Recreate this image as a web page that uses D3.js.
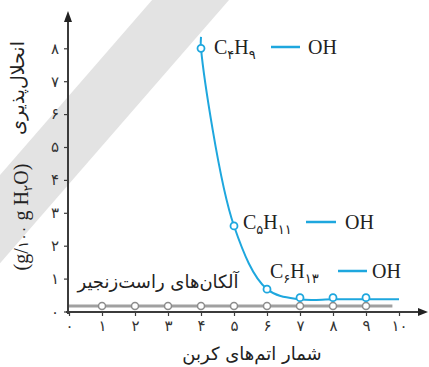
<!DOCTYPE html>
<html>
<head>
<meta charset="utf-8">
<script src="https://cdn.jsdelivr.net/npm/d3@7"></script>
<style>
  body { margin: 0; background: #fff; }
  svg { display: block; }
  .fa { font-family: "DejaVu Sans", sans-serif; }
  .serif { font-family: "Liberation Serif", "Times New Roman", serif; }
</style>
</head>
<body>
<svg id="chart"></svg>
<script>
const width = 429;
const height = 367;

// data
const xTicks = [0, 1, 2, 3, 4, 5, 6, 7, 8, 9, 10];
const xTickLabels = ['۰', '۱', '۲', '۳', '۴', '۵', '۶', '۷', '۸', '۹', '۱۰'];
const yTicks = [0, 1, 2, 3, 4, 5, 6, 7, 8];
const yTickLabels = ['۰', '۱', '۲', '۳', '۴', '۵', '۶', '۷', '۸'];

const alkaneCarbons = [1, 2, 3, 4, 5, 6, 7, 8, 9];
const alkaneValues = [0.17, 0.17, 0.17, 0.17, 0.17, 0.17, 0.17, 0.17, 0.17];
const alkaneLine = [[0, 0.17], [9.8, 0.17]];

const alcoholCarbons = [4, 5, 6, 7, 8, 9];
const alcoholValues = [8, 2.6, 0.68, 0.42, 0.42, 0.42];
const alcoholCurve = [[4, 8.35], [4, 8], [5, 2.6], [6, 0.68], [7, 0.37], [8, 0.37], [9, 0.37], [10, 0.37]];

// grey diagonal band behind the plot (data units)
const bandCorners = [[-2.09, 4.15], [2.52, 9.47], [4.85, 9.47], [-2.09, 1.47]];

// formula labels: carbon / hydrogen subscripts
const formulas = [
  { c: '۴', h: '۹', x: 214, y: 54, dash: [271, 300], oh: 308 },
  { c: '۵', h: '۱۱', x: 243, y: 229, dash: [306, 336], oh: 345 },
  { c: '۶', h: '۱۳', x: 270, y: 278, dash: [338, 367], oh: 372 },
];

const blue = '#1ea7de';
const axisColor = '#3b3b3b';

const svg = d3.select('#chart').attr('width', width).attr('height', height);

const x = d3.scaleLinear().domain([0, 10]).range([69, 399]);
const y = d3.scaleLinear().domain([0, 8]).range([311.5, 48.3]);

// band
svg.append('polygon')
  .attr('points', bandCorners.map(d => [x(d[0]), y(d[1])].join(',')).join(' '))
  .attr('fill', '#e3e3e3');

// axes ticks + labels
const xAxis = svg.append('g')
  .attr('transform', 'translate(0,312)')
  .call(d3.axisBottom(x).tickValues(xTicks).tickSize(4).tickFormat((d, i) => xTickLabels[i]));
xAxis.select('.domain').remove();
xAxis.selectAll('line').attr('stroke', axisColor).attr('stroke-width', 1.2);
xAxis.selectAll('text')
  .attr('class', 'fa')
  .attr('fill', '#333')
  .attr('font-size', 15)
  .attr('y', 8);

const yAxis = svg.append('g')
  .attr('transform', 'translate(68,0)')
  .call(d3.axisLeft(y).tickValues(yTicks).tickSize(4).tickPadding(5).tickFormat((d, i) => yTickLabels[i]));
yAxis.select('.domain').remove();
yAxis.selectAll('line').attr('stroke', axisColor).attr('stroke-width', 1.2);
yAxis.selectAll('text')
  .attr('class', 'fa')
  .attr('fill', '#333')
  .attr('font-size', 15);

// axis lines with arrow heads
svg.append('line')
  .attr('x1', 66).attr('x2', 420).attr('y1', 312).attr('y2', 312)
  .attr('stroke', axisColor).attr('stroke-width', 2);
svg.append('path')
  .attr('d', 'M428,312 L418,308 L418,316 Z')
  .attr('fill', '#222');
svg.append('line')
  .attr('x1', 68).attr('x2', 68).attr('y1', 314).attr('y2', 20)
  .attr('stroke', axisColor).attr('stroke-width', 2);
svg.append('path')
  .attr('d', 'M68,11 L64,22 L72,22 Z')
  .attr('fill', '#222');

// alkanes
svg.append('path')
  .datum(alkaneLine)
  .attr('d', d3.line().x(d => x(d[0])).y(d => y(d[1])))
  .attr('stroke', '#a0a0a0').attr('stroke-width', 3).attr('fill', 'none');
svg.append('g').selectAll('circle')
  .data(alkaneCarbons)
  .join('circle')
  .attr('cx', d => x(d))
  .attr('cy', (d, i) => y(alkaneValues[i]))
  .attr('r', 3.5)
  .attr('fill', '#fff').attr('stroke', '#8c8c8c').attr('stroke-width', 1.5);

// alcohols
svg.append('path')
  .datum(alcoholCurve)
  .attr('d', d3.line().x(d => x(d[0])).y(d => y(d[1])).curve(d3.curveCatmullRom.alpha(0.5)))
  .attr('stroke', blue).attr('stroke-width', 2).attr('fill', 'none');
svg.append('g').selectAll('circle')
  .data(alcoholCarbons)
  .join('circle')
  .attr('cx', d => x(d))
  .attr('cy', (d, i) => y(alcoholValues[i]))
  .attr('r', 3.5)
  .attr('fill', '#fff').attr('stroke', blue).attr('stroke-width', 1.8);

// formula labels
formulas.forEach(f => {
  const t = svg.append('text')
    .attr('class', 'serif')
    .attr('x', f.x).attr('y', f.y)
    .attr('font-size', 20)
    .attr('fill', '#222');
  t.append('tspan').text('C');
  t.append('tspan').attr('class', 'fa').attr('font-size', 13).attr('dy', 5).text(f.c);
  t.append('tspan').attr('dy', -5).text('H');
  t.append('tspan').attr('class', 'fa').attr('font-size', 13).attr('dy', 5).text(f.h);

  svg.append('line')
    .attr('x1', f.dash[0]).attr('x2', f.dash[1])
    .attr('y1', f.y - 7).attr('y2', f.y - 7)
    .attr('stroke', blue).attr('stroke-width', 2.5);

  svg.append('text')
    .attr('class', 'serif')
    .attr('x', f.oh).attr('y', f.y)
    .attr('font-size', 20)
    .attr('fill', '#222')
    .text('OH');
});

// alkane legend text
svg.append('text')
  .attr('class', 'fa')
  .attr('x', 158).attr('y', 288)
  .attr('text-anchor', 'middle')
  .attr('font-size', 18)
  .attr('fill', '#222')
  .text('آلکان‌های راست‌زنجیر');

// x title
svg.append('text')
  .attr('class', 'fa')
  .attr('x', 252).attr('y', 360)
  .attr('text-anchor', 'middle')
  .attr('font-size', 18)
  .attr('fill', '#222')
  .text('شمار اتم‌های کربن');

// y title: persian part and unit part
svg.append('text')
  .attr('class', 'fa')
  .attr('transform', 'translate(17,88) rotate(-90)')
  .attr('text-anchor', 'middle')
  .attr('dominant-baseline', 'central')
  .attr('font-size', 19)
  .attr('fill', '#222')
  .text('انحلال‌پذیری');

const unit = svg.append('text')
  .attr('class', 'serif')
  .attr('transform', 'translate(28,217) rotate(-90)')
  .attr('text-anchor', 'middle')
  .attr('font-size', 20)
  .attr('fill', '#222');
unit.append('tspan').text('(g/');
unit.append('tspan').attr('class', 'fa').attr('font-size', 14).text('۱۰۰');
unit.append('tspan').text(' g H');
unit.append('tspan').attr('class', 'fa').attr('font-size', 12).attr('dy', 4).text('۲');
unit.append('tspan').attr('dy', -4).text('O)');
</script>
</body>
</html>
